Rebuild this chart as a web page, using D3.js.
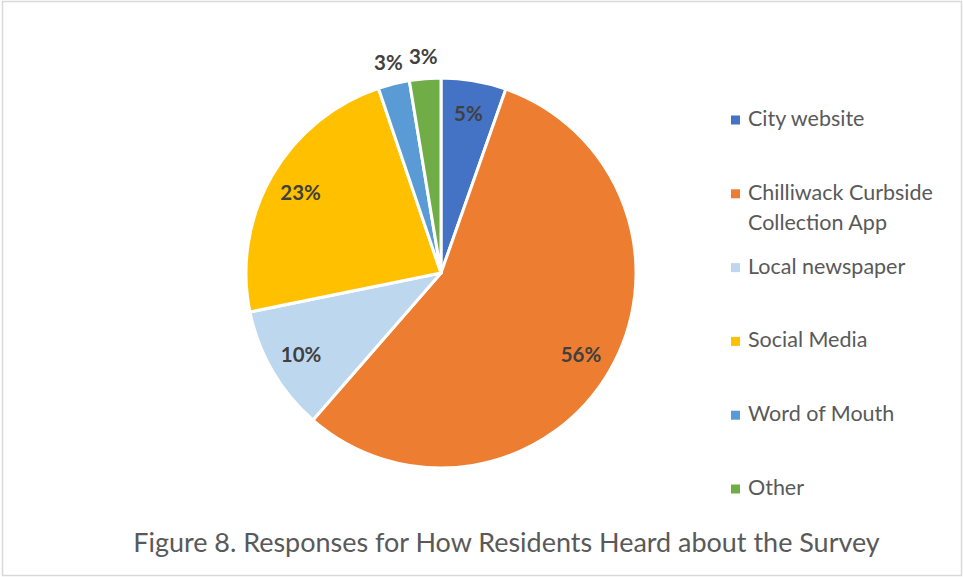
<!DOCTYPE html>
<html>
<head>
<meta charset="utf-8">
<script src="https://cdn.jsdelivr.net/npm/d3@7"></script>
<style>
  html, body { margin: 0; padding: 0; background: #fff; }
  svg { display: block; }
</style>
</head>
<body>
<svg id="chart" width="963" height="577"></svg>
<script>
const categories = ["City website", "Chilliwack Curbside Collection App", "Local newspaper", "Social Media", "Word of Mouth", "Other"];
const legendLines = [["City website"], ["Chilliwack Curbside", "Collection App"], ["Local newspaper"], ["Social Media"], ["Word of Mouth"], ["Other"]];
const values = [5.4, 56.0, 10.4, 23.0, 2.6, 2.6];
const labels = ["5%", "56%", "10%", "23%", "3%", "3%"];
const colors = ["#4472C4", "#ED7D31", "#BDD7EE", "#FFC000", "#5B9BD5", "#70AD47"];
const title = "Figure 8. Responses for How Residents Heard about the Survey";

const svg = d3.select("#chart");
const FONT = "Lato, 'Open Sans', 'Noto Sans', sans-serif";

// frame
svg.append("rect").attr("x", 2.5).attr("y", 1.5).attr("width", 959).attr("height", 574)
  .attr("fill", "#fff").attr("stroke", "#d9d9d9").attr("stroke-width", 1.5);

const cx = 441, cy = 273, R = 195;
const g = svg.append("g").attr("transform", `translate(${cx},${cy})`);

const data = categories.map((c, i) => ({ cat: c, value: values[i], label: labels[i], color: colors[i] }));
const pie = d3.pie().value(d => d.value).sort(null);
const arcs = pie(data);
const arc = d3.arc().innerRadius(0).outerRadius(R);

g.selectAll("path.slice").data(arcs).join("path")
  .attr("class", "slice")
  .attr("d", arc)
  .attr("fill", d => d.data.color)
  .attr("stroke", "#fff")
  .attr("stroke-width", 3)
  .attr("stroke-linejoin", "round");

const inArc = d3.arc().innerRadius(162).outerRadius(162);
const outArc = d3.arc().innerRadius(217).outerRadius(217);

g.selectAll("text.lbl").data(arcs).join("text")
  .attr("class", "lbl")
  .attr("transform", d => {
    const p = (d.data.value < 4 ? outArc : inArc).centroid(d);
    return `translate(${p[0]},${p[1]})`;
  })
  .attr("text-anchor", "middle")
  .attr("dy", "0.36em")
  .attr("font-family", FONT)
  .attr("font-weight", "bold")
  .attr("font-size", 20.5)
  .attr("fill", "#404040")
  .text(d => d.data.label);

// legend
const ly = d3.scaleLinear().domain([0, 5]).range([126, 495]);
const leg = svg.append("g");
legendLines.forEach((lines, i) => {
  const y = ly(i);
  leg.append("rect").attr("x", 731).attr("y", y - 10.5).attr("width", 9).attr("height", 9)
    .attr("fill", colors[i]);
  const t = leg.append("text").attr("x", 748).attr("y", y)
    .attr("font-family", FONT).attr("font-size", 21.5).attr("fill", "#595959");
  lines.forEach((ln, j) => {
    t.append("tspan").attr("x", 748).attr("dy", j === 0 ? 0 : 30).text(ln);
  });
});

// title
const tt = svg.append("text").attr("x", 506.5).attr("y", 552)
  .attr("text-anchor", "middle")
  .attr("font-family", FONT).attr("font-size", 26).attr("fill", "#595959")
  .text(title);
const w = tt.node().getComputedTextLength();
if (w > 0) tt.attr("font-size", 26 * 747 / w);
</script>
</body>
</html>
